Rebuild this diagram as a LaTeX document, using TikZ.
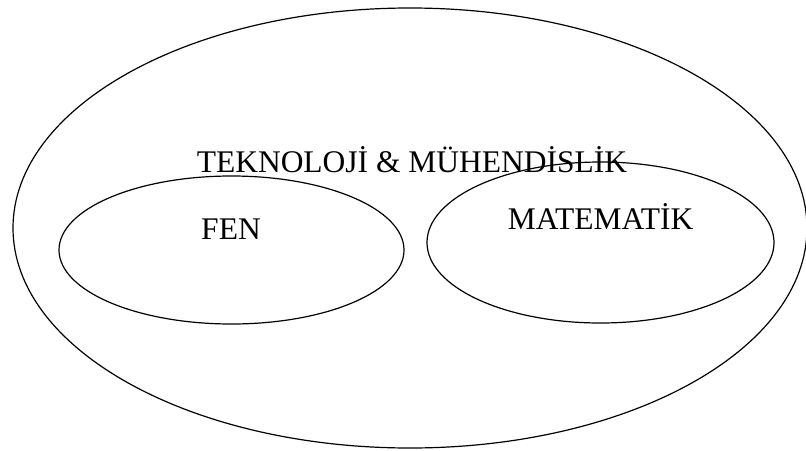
\documentclass[tikz,border=0pt]{standalone}
\usepackage{fontspec}
\setmainfont{Liberation Serif}
\usetikzlibrary{shapes.geometric}
\begin{document}
\begin{tikzpicture}[x=1pt,y=-1pt,line width=1.2pt]
            \useasboundingbox (0,0) rectangle (806,450);

            \node[draw,ellipse,inner sep=0,minimum width=794,minimum height=440] (stem) at (410,228) {};
            \node[draw,ellipse,inner sep=0,minimum width=345,minimum height=148] (fen) at (231.5,250) {};
            \node[draw,ellipse,inner sep=0,minimum width=347,minimum height=161] (mat) at (600.5,242.5) {};

            \node[anchor=base,inner sep=0,font=\fontsize{31.5}{36}\selectfont] (stem_t) at (412,172) {TEKNOLOJİ \& MÜHENDİSLİK};
            \node[anchor=base,inner sep=0,font=\fontsize{31.5}{36}\selectfont] (fen_t) at (231,239) {FEN};
            \node[anchor=base,inner sep=0,font=\fontsize{31.5}{36}\selectfont] (mat_t) at (600.5,229) {MATEMATİK};
        \end{tikzpicture}
\end{document}
